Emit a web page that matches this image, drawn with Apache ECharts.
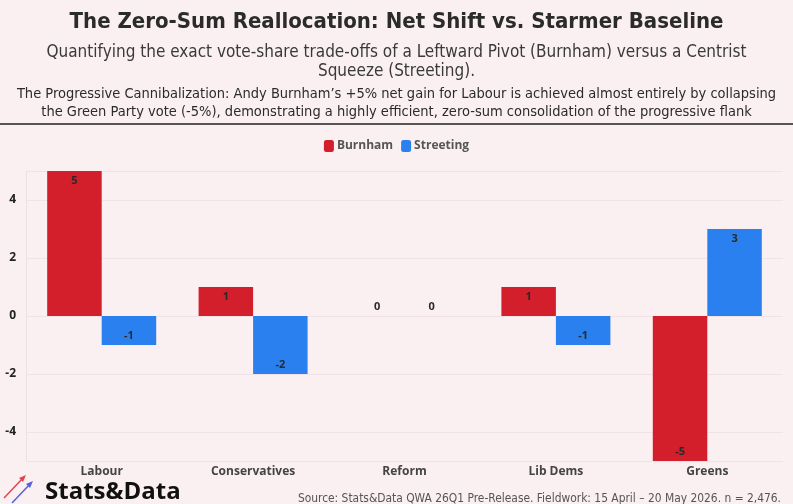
<!DOCTYPE html>
<html>
<head>
<meta charset="utf-8">
<script src="https://cdn.jsdelivr.net/npm/echarts@6/dist/echarts.min.js"></script>
<style>
  html, body { margin: 0; padding: 0; background: #fbf0f1; }
  #chart { width: 793px; height: 504px; }
</style>
</head>
<body>
<div id="chart"></div>
<script>
// data
const categories = ['Labour', 'Conservatives', 'Reform', 'Lib Dems', 'Greens']
const burnham = [5, 1, 0, 1, -5]
const streeting = [-1, -2, 0, -1, 3]
const yTicks = [-4, -2, 0, 2, 4]

const RED = '#d21f2b'
const BLUE = '#2b80f0'
const FONT = '"Open Sans", "Noto Sans", sans-serif'
const COND = '"DejaVu Sans Condensed", "Liberation Sans Narrow", sans-serif'

// label sits at the far end of each bar, zero values sit on the axis
const withLabels = (vals) => vals.map(v => ({
    value: v,
    label: { position: v > 0 ? 'insideTop' : (v < 0 ? 'insideBottom' : 'top') }
}))

const chart = echarts.init(document.getElementById('chart'))

const option = {
    backgroundColor: '#fbf0f1',
    animation: false,
    title: [
        {
            text: 'The Zero-Sum Reallocation: Net Shift vs. Starmer Baseline',
            left: 'center', top: 6,
            textStyle: { fontFamily: COND, fontSize: 22, fontWeight: 'bold', color: '#2b2b2b' }
        },
        {
            text: 'Quantifying the exact vote-share trade-offs of a Leftward Pivot (Burnham) versus a Centrist\nSqueeze (Streeting).',
            left: 'center', top: 38,
            textStyle: { fontFamily: COND, fontSize: 17, fontWeight: 'normal', color: '#3a3a3a', lineHeight: 19, align: 'center' }
        },
        {
            text: 'The Progressive Cannibalization: Andy Burnham\u2019s +5% net gain for Labour is achieved almost entirely by collapsing\nthe Green Party vote (-5%), demonstrating a highly efficient, zero-sum consolidation of the progressive flank',
            left: 'center', top: 80,
            textStyle: { fontFamily: COND, fontSize: 14.5, fontWeight: 'normal', color: '#2b2b2b', lineHeight: 18, align: 'center' }
        },
        {
            text: 'Source: Stats&Data QWA 26Q1 Pre-Release. Fieldwork: 15 April \u2013 20 May 2026. n = 2,476.',
            right: 7, top: 488,
            textStyle: { fontFamily: COND, fontSize: 11.9, fontWeight: 'normal', color: '#555' }
        },
        {
            text: 'Stats&Data',
            left: 40, top: 475,
            textStyle: { fontFamily: FONT, fontSize: 24, fontWeight: 'bold', color: '#111' }
        }
    ],
    legend: {
        top: 135, left: 'center',
        itemWidth: 10, itemHeight: 12, itemGap: 8,
        icon: 'roundRect',
        textStyle: { fontFamily: FONT, fontSize: 12, fontWeight: 'bold', color: '#555', padding: [0, 0, 0, -2] }
    },
    grid: { left: 26, right: 10, top: 171, bottom: 43 },
    xAxis: {
        type: 'category',
        data: categories,
        axisLine: { show: false },
        axisTick: { show: false },
        axisLabel: { fontFamily: FONT, fontSize: 12, fontWeight: 'bold', color: '#444', margin: 5 }
    },
    yAxis: {
        type: 'value',
        min: -5, max: 5,
        splitNumber: 5,
        axisLine: { show: true, lineStyle: { color: '#eee0e2' } },
        axisTick: { show: false },
        axisLabel: {
            fontFamily: FONT, fontSize: 12, fontWeight: 'bold', color: '#222', margin: 10,
            showMinLabel: false, showMaxLabel: false,
            formatter: v => yTicks.includes(v) ? String(v) : ''
        },
        splitLine: { show: true, lineStyle: { color: '#f1e3e5' } }
    },
    series: [
        {
            name: 'Burnham', type: 'bar',
            data: withLabels(burnham),
            barGap: '0%', barCategoryGap: '28%',
            itemStyle: { color: RED },
            label: { show: true, fontFamily: FONT, fontSize: 11, fontWeight: 'bold', color: '#2a2a2a', distance: 4 }
        },
        {
            name: 'Streeting', type: 'bar',
            data: withLabels(streeting),
            itemStyle: { color: BLUE },
            label: { show: true, fontFamily: FONT, fontSize: 11, fontWeight: 'bold', color: '#2a2a2a', distance: 4 }
        }
    ],
    graphic: [
        // header rule
        { type: 'line', shape: { x1: 0, y1: 124, x2: 793, y2: 124 }, style: { stroke: '#555', lineWidth: 2 } },
        // little logo arrows
        { type: 'line', shape: { x1: 4, y1: 498, x2: 24, y2: 477 }, style: { stroke: '#e0454f', lineWidth: 1.5 } },
        { type: 'polygon', shape: { points: [[26, 475], [19, 478], [23, 482]] }, style: { fill: '#e0454f' } },
        { type: 'line', shape: { x1: 12, y1: 503, x2: 31, y2: 483 }, style: { stroke: '#5560d8', lineWidth: 1.5 } },
        { type: 'polygon', shape: { points: [[33, 481], [26, 484], [30, 488]] }, style: { fill: '#5560d8' } }
    ]
}

chart.setOption(option)
window.addEventListener('resize', () => chart.resize())
</script>
</body>
</html>
